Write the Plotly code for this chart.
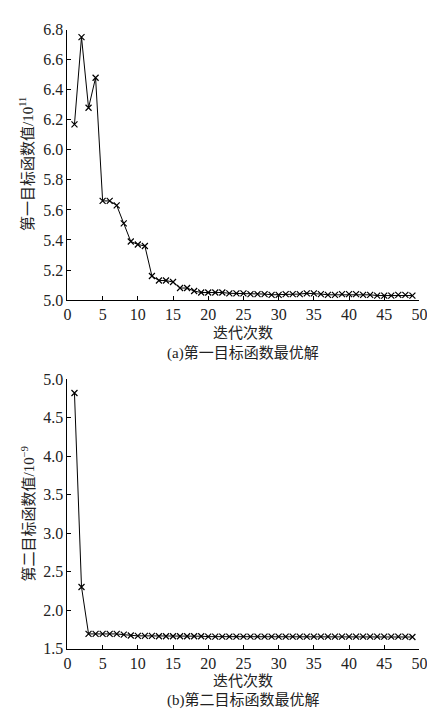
import plotly.graph_objects as go

iters = list(range(1, 50))
obj1 = [6.17, 6.75, 6.28, 6.48, 5.66, 5.66, 5.63, 5.51, 5.39, 5.37,
        5.36, 5.16, 5.13, 5.13, 5.12, 5.08, 5.08, 5.06, 5.05, 5.05,
        5.05, 5.05, 5.045, 5.045, 5.045, 5.04, 5.04, 5.04, 5.035, 5.035,
        5.04, 5.04, 5.04, 5.045, 5.045, 5.04, 5.035, 5.035, 5.04, 5.04,
        5.04, 5.035, 5.035, 5.03, 5.03, 5.03, 5.035, 5.035, 5.03]
obj2 = [4.82, 2.30, 1.69, 1.69, 1.69, 1.69, 1.69, 1.68, 1.67, 1.665,
        1.665, 1.665, 1.66, 1.66, 1.66, 1.66, 1.66, 1.66, 1.66, 1.655,
        1.655, 1.655, 1.655, 1.655, 1.655, 1.655, 1.655, 1.655, 1.655, 1.655,
        1.655, 1.655, 1.655, 1.655, 1.655, 1.655, 1.655, 1.655, 1.655, 1.655,
        1.655, 1.655, 1.655, 1.655, 1.655, 1.655, 1.655, 1.655, 1.65]
x_ticks = [0, 5, 10, 15, 20, 25, 30, 35, 40, 45, 50]
y1_ticks = [5.0, 5.2, 5.4, 5.6, 5.8, 6.0, 6.2, 6.4, 6.6, 6.8]
y2_ticks = [1.5, 2.0, 2.5, 3.0, 3.5, 4.0, 4.5, 5.0]

NUMFONT = "Times New Roman"
FONT = "Times New Roman, Noto Sans CJK SC"
W, H = 435, 713

fig = go.Figure()
mk = dict(symbol="x-thin", size=6, line=dict(width=1.2, color="black"), color="black")
fig.add_trace(go.Scatter(x=iters, y=obj1, mode="lines+markers", line=dict(color="black", width=1),
                         marker=mk, xaxis="x", yaxis="y", showlegend=False))
fig.add_trace(go.Scatter(x=iters, y=obj2, mode="lines+markers", line=dict(color="black", width=1),
                         marker=mk, xaxis="x2", yaxis="y2", showlegend=False))

axcommon = dict(showline=True, linecolor="black", linewidth=1, ticks="inside", ticklen=4,
                tickcolor="black", showgrid=False, zeroline=False,
                tickfont=dict(family=NUMFONT, size=16, color="#222"))
x0, x1 = 57 / W, 419 / W
fig.update_layout(
    width=W, height=H, margin=dict(l=0, r=0, t=0, b=0),
    paper_bgcolor="white", plot_bgcolor="white",
    font=dict(family=FONT, color="#222"),
    xaxis=dict(domain=[x0, x1], range=[0, 50], tickvals=x_ticks, anchor="y", **axcommon),
    yaxis=dict(domain=[1 - 291 / H, 1 - 14 / H], range=[5.0, 6.8], tickvals=y1_ticks,
               tickformat=".1f", anchor="x", **axcommon),
    xaxis2=dict(domain=[x0, x1], range=[0, 50], tickvals=x_ticks, anchor="y2", **axcommon),
    yaxis2=dict(domain=[1 - 648 / H, 1 - 372 / H], range=[1.5, 5.0], tickvals=y2_ticks,
                tickformat=".1f", anchor="x2", **axcommon),
)

def ann(text, xp, yp, size=15, angle=0):
    fig.add_annotation(text=text, x=xp / W, y=1 - yp / H, xref="paper", yref="paper",
                       showarrow=False, textangle=angle, xanchor="center", yanchor="middle",
                       font=dict(family=FONT, size=size, color="#222"))

ann("迭代次数", 238, 325)
ann("(a)第一目标函数最优解", 238, 345)
ann("第一目标函数值/10<sup>11</sup>", 15, 152, angle=-90)
ann("迭代次数", 238, 681)
ann("(b)第二目标函数最优解", 238, 701)
ann("第二目标函数值/10<sup>−9</sup>", 16, 510, angle=-90)

fig.write_html("out.html")
